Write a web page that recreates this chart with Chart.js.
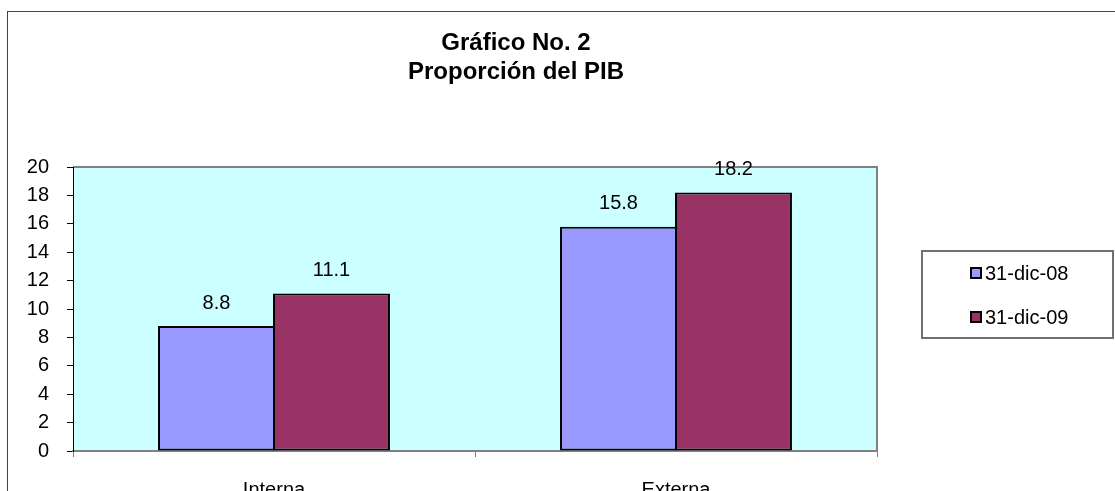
<!DOCTYPE html>
<html>
<head>
<meta charset="utf-8">
<script src="https://cdn.jsdelivr.net/npm/chart.js@4"></script>
<style>
  html, body { margin: 0; padding: 0; background: #fff; }
  #wrap { width: 1115px; height: 491px; }
</style>
</head>
<body>
<div id="wrap"><canvas id="chartPib" width="1115" height="491"></canvas></div>
<script>
const categories = ["Interna", "Externa"];
const seriesLabels = ["31-dic-08", "31-dic-09"];
const values2008 = [8.8, 15.8];
const values2009 = [11.1, 18.2];
const titleLines = ["Gráfico No. 2", "Proporción del PIB"];
const yTicks = [0, 2, 4, 6, 8, 10, 12, 14, 16, 18, 20];

const FONT = "'Liberation Sans', Arial, sans-serif";

// fondo, marco exterior, titulo
const framePlugin = {
    id: "frame",
    beforeDraw(chart) {
        const { ctx, chartArea: a } = chart;
        ctx.save();
        ctx.fillStyle = "#fff";
        ctx.fillRect(0, 0, chart.width, chart.height);
        ctx.strokeStyle = "#444";
        ctx.lineWidth = 1;
        ctx.strokeRect(7.5, 11.5, 1300, 600);
        ctx.fillStyle = "#CCFFFF";
        ctx.fillRect(a.left, a.top, a.right - a.left, a.bottom - a.top);
        ctx.strokeStyle = "#808080";
        ctx.lineWidth = 2;
        ctx.beginPath();
        ctx.moveTo(a.left, a.top);
        ctx.lineTo(a.right, a.top);
        ctx.lineTo(a.right, a.bottom);
        ctx.stroke();

        ctx.fillStyle = "#000";
        ctx.font = "bold 24px " + FONT;
        ctx.textAlign = "center";
        ctx.textBaseline = "middle";
        titleLines.forEach((t, i) => ctx.fillText(t, 516, 43 + i * 29));
        ctx.restore();
    },
    afterDatasetsDraw(chart) {
        const { ctx } = chart;
        ctx.save();
        ctx.fillStyle = "#000";
        ctx.font = "20px " + FONT;
        ctx.textAlign = "center";
        ctx.textBaseline = "middle";
        chart.data.datasets.forEach((ds, i) => {
            chart.getDatasetMeta(i).data.forEach((bar, j) => {
                ctx.fillText(String(ds.data[j]), bar.x, bar.y - 23);
            });
        });

        // leyenda
        ctx.strokeStyle = "#707070";
        ctx.lineWidth = 2;
        ctx.strokeRect(922, 251, 191, 87);
        ctx.font = "20px " + FONT;
        ctx.textAlign = "left";
        chart.data.datasets.forEach((ds, i) => {
            const cy = 273 + i * 44;
            ctx.fillStyle = ds.backgroundColor;
            ctx.fillRect(971, cy - 5, 10, 10);
            ctx.strokeStyle = "#000";
            ctx.lineWidth = 2;
            ctx.strokeRect(971, cy - 5, 10, 10);
            ctx.fillStyle = "#000";
            ctx.fillText(ds.label, 985, cy + 1);
        });
        ctx.restore();
    }
};

new Chart(document.getElementById("chartPib"), {
    type: "bar",
    data: {
        labels: categories,
        datasets: [
            {
                label: seriesLabels[0],
                data: values2008,
                backgroundColor: "#9999FF",
                borderColor: "#000",
                borderWidth: 2,
                borderSkipped: false
            },
            {
                label: seriesLabels[1],
                data: values2009,
                backgroundColor: "#993366",
                borderColor: "#000",
                borderWidth: 2,
                borderSkipped: false
            }
        ]
    },
    options: {
        responsive: false,
        animation: false,
        devicePixelRatio: 1,
        layout: { padding: { top: 167, right: 238, left: 0, bottom: 0 } },
        datasets: { bar: { categoryPercentage: 0.572, barPercentage: 1.0174 } },
        plugins: {
            legend: { display: false },
            title: { display: false },
            tooltip: { enabled: false }
        },
        scales: {
            x: {
                afterFit: s => { s.height = 40; },
                grid: { drawOnChartArea: false, offset: true, tickLength: 6, color: "#808080" },
                border: { color: "#808080", width: 2 },
                ticks: { color: "#000", font: { family: FONT, size: 20 }, padding: 21 }
            },
            y: {
                min: 0,
                max: 20,
                afterFit: s => { s.width = 73; },
                afterBuildTicks: s => { s.ticks = yTicks.map(v => ({ value: v })); },
                grid: { drawOnChartArea: false, tickLength: 6, color: "#000" },
                border: { color: "#000", width: 1 },
                ticks: { color: "#000", font: { family: FONT, size: 20 }, padding: 18 }
            }
        }
    },
    plugins: [framePlugin]
});
</script>
</body>
</html>
